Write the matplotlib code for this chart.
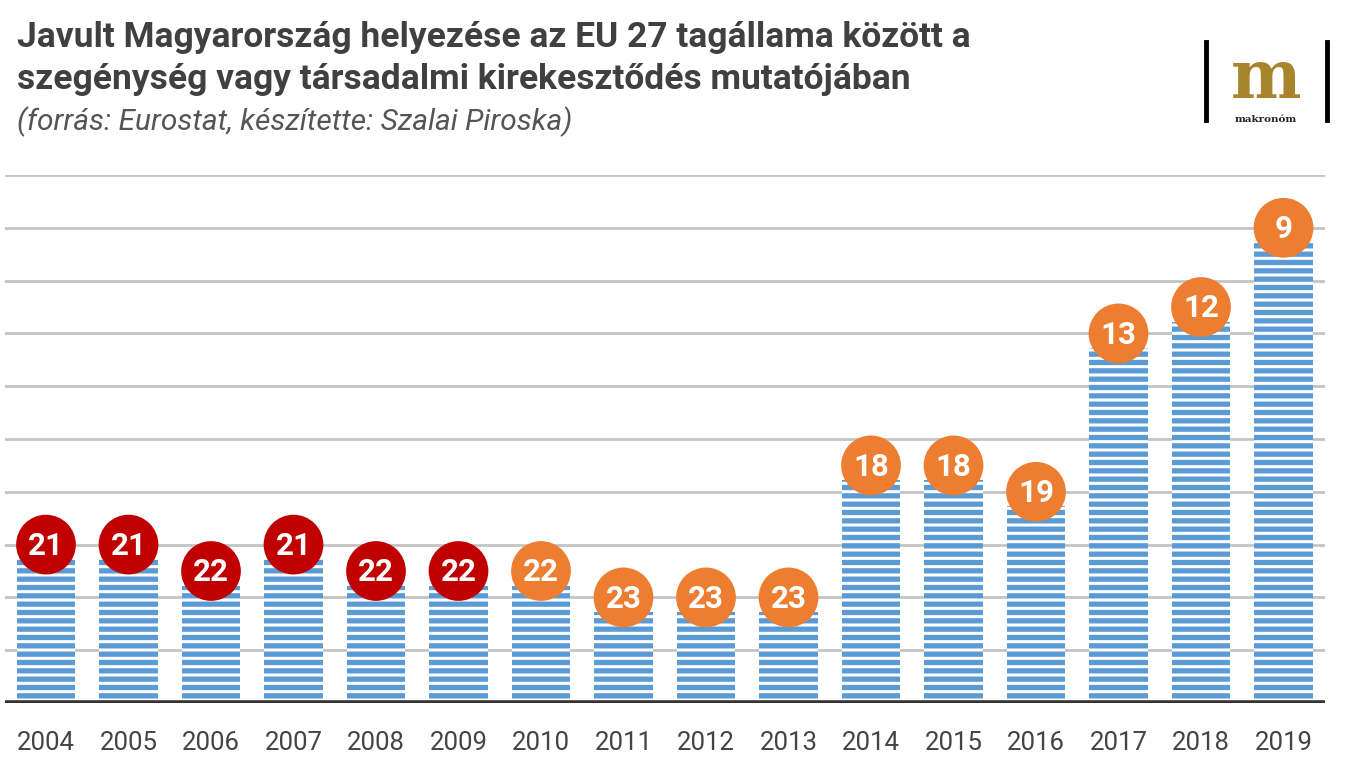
import matplotlib.pyplot as plt
import numpy as np

years = [str(y) for y in range(2004, 2020)]
ranks = [21, 21, 22, 21, 22, 22, 22, 23, 23, 23, 18, 18, 19, 13, 12, 9]
circle_colors = ['#c00000'] * 6 + ['#ed7d31'] * 10
n_members = 27

heights = [n_members - r for r in ranks]

plt.rcParams['font.family'] = ['Roboto', 'DejaVu Sans']
plt.rcParams['hatch.linewidth'] = 3.8

fig = plt.figure(figsize=(13.47, 7.58), dpi=100)
ax = fig.add_axes([4.75 / 1347, 1 - 703 / 758, 1320 / 1347, (703 - 175) / 758])

x = np.arange(len(years))
for g in range(2, 21, 2):
    ax.axhline(g, color='#c4c4c4', lw=2, zorder=0)

ax.bar(x, [h - 0.55 for h in heights], width=0.715, color='white',
       edgecolor='#5b9bd5', linewidth=0, hatch='--', zorder=2)
ax.axhline(0, color='#333333', lw=4, zorder=3)

ax.scatter(x, heights, s=1850, c=circle_colors, zorder=4, clip_on=False,
           edgecolors='none')
for xi, h, r in zip(x, heights, ranks):
    ax.text(xi, h - 0.05, str(r), ha='center', va='center', color='white',
            fontsize=22.5, fontweight='bold', zorder=5)

ax.set_xlim(-0.5, len(years) - 0.5)
ax.set_ylim(0, 20)
ax.set_yticks([])
ax.set_xticks(x)
ax.set_xticklabels(years, fontsize=18.5, color='#444444')
ax.tick_params(axis='x', length=0, pad=20)
for s in ax.spines.values():
    s.set_visible(False)

fig.text(17 / 1347, 1 - 38 / 758, 'Javult Magyarország helyezése az EU 27 tagállama között a',
         fontsize=25.5, fontweight='bold', color='#404040', va='center')
fig.text(17 / 1347, 1 - 80 / 758, 'szegénység vagy társadalmi kirekesztődés mutatójában',
         fontsize=25.5, fontweight='bold', color='#404040', va='center')
fig.text(17 / 1347, 1 - 122 / 758, '(forrás: Eurostat, készítette: Szalai Piroska)',
         fontsize=21.5, style='italic', color='#555555', va='center')

# logo
for lx in [1206, 1327]:
    fig.add_artist(plt.Line2D([lx / 1347, lx / 1347], [1 - 42 / 758, 1 - 120 / 758],
                              color='black', lw=3.5))
fig.text(1266 / 1347, 1 - 98 / 758, 'm', fontsize=48, fontweight='bold',
         family='DejaVu Serif', color='#a8842c', ha='center', va='baseline')
fig.text(1266 / 1347, 1 - 120 / 758, 'makronóm', fontsize=7.5, fontweight='bold',
         family='DejaVu Serif', color='#222222', ha='center', va='center')

fig.savefig('out.png', dpi=100)
